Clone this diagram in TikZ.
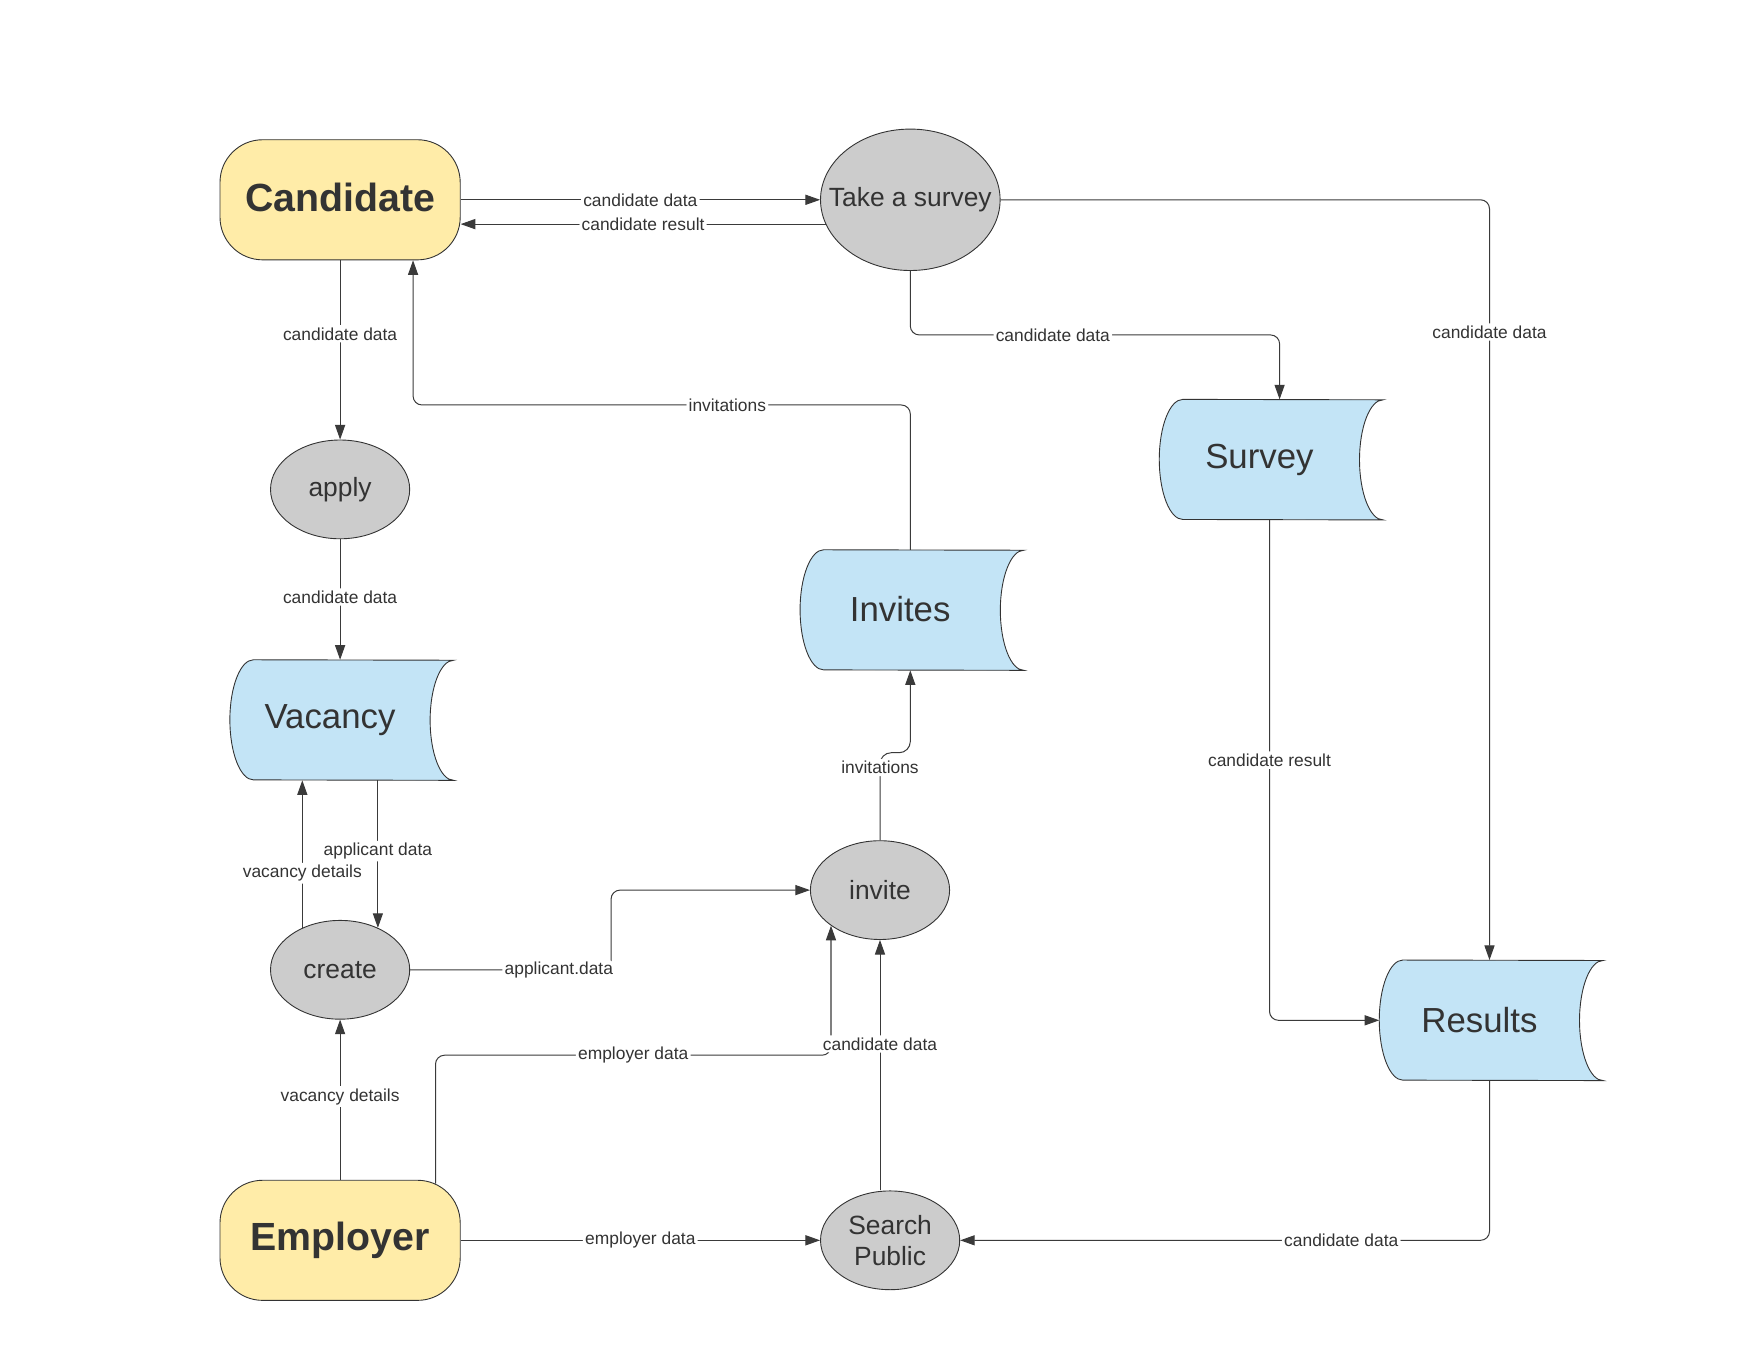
\documentclass[tikz,border=0pt]{standalone}
\usepackage{fontspec}
\setmainfont{Liberation Sans}
\usetikzlibrary{shapes.geometric,arrows.meta,backgrounds}
\definecolor{actorfill}{HTML}{FFECA8}
\definecolor{procfill}{HTML}{CCCCCC}
\definecolor{storefill}{HTML}{C3E4F6}
\definecolor{textgray}{HTML}{333333}
\definecolor{linegray}{HTML}{3A3A3A}
\tikzstyle{actor}=[draw=textgray,thick,fill=actorfill,rounded corners=38pt,minimum width=214pt,minimum height=107pt,text=textgray,font=\bfseries\fontsize{35}{40}\selectfont]
\tikzstyle{process}=[ellipse,draw=textgray,thick,fill=procfill,minimum width=124pt,minimum height=88pt,inner sep=0pt,align=center,text=textgray,font=\fontsize{23.5}{28}\selectfont]
\tikzstyle{store}=[minimum width=178pt,minimum height=107pt,inner sep=0pt,text=textgray,font=\fontsize{31}{36}\selectfont]
\tikzstyle{flow}=[draw=linegray,line width=0.9pt,rounded corners=8pt,-{Triangle[length=13pt,width=9pt]}]
\tikzstyle{lbl}=[fill=white,inner sep=2pt,text=textgray,font=\fontsize{15.5}{18}\selectfont]

\begin{document}
\begin{tikzpicture}[x=1pt,y=-1pt]
\useasboundingbox (0,0) rectangle (1568,1212);
\node[actor] (cand) at (303,178) {\raisebox{4pt}{Candidate}};
\node[actor] (emp) at (303,1105) {\raisebox{2pt}{Employer}};
\node[process,minimum width=160pt,minimum height=126pt] (take) at (811,178) {\makebox[0pt]{Take a survey}};
\node[process] (apply) at (303,436) {apply};
\node[process] (create) at (303,864) {create};
\node[process] (invite) at (784,793) {invite};
\node[process] (search) at (793,1105) {Search\\Public};
\node[store] (vac) at (294,641.5) {Vacancy};
\node[store] (inv) at (802,543.5) {\raisebox{2pt}{Invites}};
\node[store] (survey) at (1122,409.5) {Survey};
\node[store] (results) at (1318,909) {Results};
\begin{scope}[on background layer]
\foreach \s in {vac,inv,survey,results}
  \filldraw[draw=textgray,thick,fill=storefill] ([xshift=21pt]\s.north west)
    arc[start angle=90,end angle=270,x radius=21pt,y radius=53.5pt]
    -- ([xshift=21pt]\s.south east)
    arc[start angle=270,end angle=90,x radius=21pt,y radius=53.5pt] -- cycle;
\end{scope}

\draw[flow] (cand.east) -- node[lbl]{candidate data} (take.west);
\draw[flow] (take.196) -- node[lbl]{candidate result} (take.196 -| cand.east);
\draw[flow] (take.east) -| node[lbl,pos=0.587]{candidate data} ([xshift=9pt]results.north);
\draw[flow] (take.south) -- ++(0,57) -| node[lbl,pos=0.193]{candidate data} ([xshift=18pt]survey.north);
\draw[flow] (cand.south) -- node[lbl,pos=0.41]{candidate data} (apply.north);
\draw[flow] ([xshift=9pt]inv.north) -- ++(0,-129) -| node[lbl,pos=0.184]{invitations} ([xshift=65pt]cand.south);
\draw[flow] (apply.south) -- node[lbl,pos=0.48]{candidate data} (apply.south |- vac.north);
\draw[flow] (create.132) -- node[lbl,pos=0.37]{vacancy details} (create.132 |- vac.south);
\draw[flow] (create.48 |- vac.south) -- node[lbl,pos=0.48]{applicant data} (create.48);
\draw[flow] (create.east) -- node[lbl,pos=0.74]{applicant.data} ++(179,0) |- (invite.west);
\draw[flow,rounded corners=10pt] (invite.north) -- node[lbl,pos=0.83]{invitations} ++(0,-78) -| ([xshift=9pt]inv.south);
\draw[flow] (emp.north) -- node[lbl,pos=0.52]{vacancy details} (create.south);
\draw[flow] ([xshift=85pt,yshift=-3.5pt]emp.north) -- ++(0,-114.5) -| node[lbl,pos=0.25]{employer data} (invite.216);
\draw[flow] ([xshift=-9pt]search.north) -- node[lbl,pos=0.585]{candidate data} (invite.south);
\draw[flow] (emp.east) -- node[lbl]{employer data} (search.west);
\draw[flow] ([xshift=9pt]results.south) |- node[lbl,pos=0.64]{candidate data} (search.east);
\draw[flow] ([xshift=9pt]survey.south) |- node[lbl,pos=0.24]{candidate result} (results.west);
\end{tikzpicture}
\end{document}
